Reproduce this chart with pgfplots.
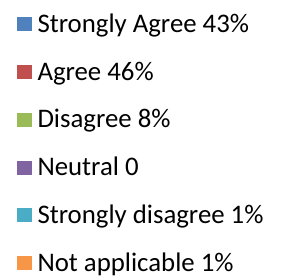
\documentclass[border=0pt]{standalone}
\usepackage{pgfplots}
\pgfplotsset{compat=1.18}
\usepackage{fontspec}
\setmainfont{Carlito}
\definecolor{c1}{HTML}{4F81BD}
\definecolor{c2}{HTML}{C0504D}
\definecolor{c3}{HTML}{9BBB59}
\definecolor{c4}{HTML}{8064A2}
\definecolor{c5}{HTML}{4BACC6}
\definecolor{c6}{HTML}{F79646}
\pgfplotsset{
  sq/.style={draw=none, mark=none,
    legend image code/.code={\fill[#1] (0pt,-5pt) rectangle (14.5pt,9pt);}}
}
\begin{document}
\begin{tikzpicture}
\begin{axis}[
  hide axis, scale only axis, width=282pt, height=276pt,
  xmin=0, xmax=7, ymin=0, ymax=50,
  legend cell align=left,
  legend style={at={(0,1)}, anchor=north west, xshift=17pt, yshift=-14.5pt,
    draw=none, fill=none, inner sep=0pt, outer sep=0pt,
    row sep=23.7pt,
    font=\fontsize{26.8}{30}\selectfont,
    nodes={inner sep=0pt, outer sep=0pt, text height=18pt, text depth=6pt},
    /tikz/every odd column/.append style={column sep=6pt}},
]
\addplot[sq=c1] coordinates {(1,43)}; \addlegendentry{Strongly Agree 43\%}
\addplot[sq=c2] coordinates {(2,46)}; \addlegendentry{Agree 46\%}
\addplot[sq=c3] coordinates {(3,8)}; \addlegendentry{Disagree 8\%}
\addplot[sq=c4] coordinates {(4,0)}; \addlegendentry{Neutral 0}
\addplot[sq=c5] coordinates {(5,1)}; \addlegendentry{Strongly disagree 1\%}
\addplot[sq=c6] coordinates {(6,1)}; \addlegendentry{Not applicable 1\%}
\end{axis}
\pgfresetboundingbox
\path (current axis.south west) rectangle (current axis.north east);
\end{tikzpicture}
\end{document}
